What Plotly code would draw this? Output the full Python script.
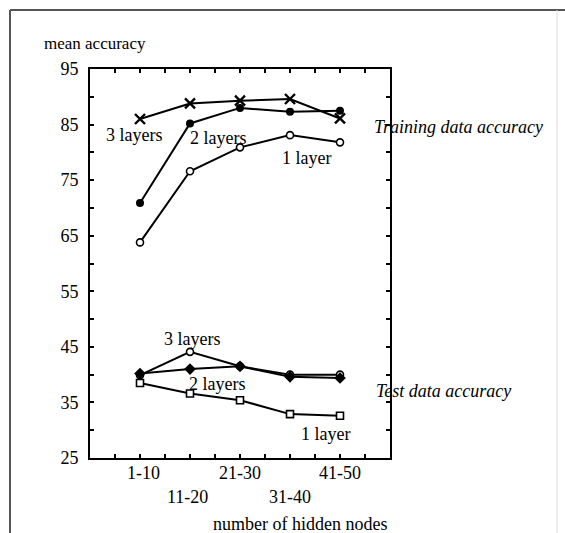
import plotly.graph_objects as go

# Hidden-node groups (plotted at positions 1..5 on the x axis)
groups = ["1-10", "11-20", "21-30", "31-40", "41-50"]
group_pos = [1, 2, 3, 4, 5]

# Mean accuracy on training data
train_3_layers = [86.0, 88.8, 89.3, 89.6, 86.1]
train_2_layers = [70.9, 85.2, 88.0, 87.3, 87.5]
train_1_layer = [63.8, 76.6, 80.9, 83.1, 81.8]

# Mean accuracy on test data
test_3_layers = [39.9, 44.1, 41.5, 40.0, 40.0]
test_2_layers = [40.2, 41.0, 41.5, 39.6, 39.4]
test_1_layer = [38.5, 36.6, 35.4, 32.9, 32.6]

y_tick_values = [25, 35, 45, 55, 65, 75, 85, 95]

FONT = "Liberation Serif"
W, H = 565, 533
L, R, T, B = 90, 175, 69, 75
PW, PH = W - L - R, H - T - B


def px(x):
    return (x - L) / PW


def py(y):
    return (H - B - y) / PH


fig = go.Figure()

line = dict(color="black", width=2)
series = [
    (train_3_layers, dict(symbol="x-thin", size=10, line=dict(color="black", width=2.4))),
    (train_2_layers, dict(symbol="circle", size=8, color="black")),
    (train_1_layer, dict(symbol="circle", size=7, color="white", line=dict(color="black", width=1.6))),
    (test_3_layers, dict(symbol="circle", size=7, color="white", line=dict(color="black", width=1.6))),
    (test_2_layers, dict(symbol="diamond", size=9, color="black")),
    (test_1_layer, dict(symbol="square", size=7, color="white", line=dict(color="black", width=1.6))),
]
for vals, marker in series:
    fig.add_trace(go.Scatter(x=group_pos, y=vals, mode="lines+markers",
                             line=line, marker=marker, showlegend=False,
                             cliponaxis=False))

annotations = []
# staggered category labels under the x axis
for i, (g, p) in enumerate(zip(groups, group_pos)):
    annotations.append(dict(x=p, y=0, xref="x", yref="paper", text=g,
                            showarrow=False, yanchor="middle",
                            xshift=3 if i == 0 else (-3 if i == 1 else 0),
                            yshift=-15 if i % 2 == 0 else -39,
                            font=dict(family=FONT, size=18, color="black")))

# curve labels
labels = [
    ("3 layers", 0.87, 83.1), ("2 layers", 2.55, 82.55), ("1 layer", 4.32, 78.9),
    ("3 layers", 2.03, 46.5), ("2 layers", 2.53, 38.4), ("1 layer", 4.71, 29.3),
]
for text, x, y in labels:
    annotations.append(dict(x=x, y=y, xref="x", yref="y", text=text, showarrow=False,
                            xanchor="center", yanchor="middle",
                            font=dict(family=FONT, size=18, color="black")))

annotations += [
    dict(x=px(372), y=py(127), xref="paper", yref="paper", xanchor="left", yanchor="middle",
         text="<i>Training data accuracy</i>", showarrow=False,
         font=dict(family=FONT, size=18, color="black")),
    dict(x=px(374), y=py(391), xref="paper", yref="paper", xanchor="left", yanchor="middle",
         text="<i>Test data accuracy</i>", showarrow=False,
         font=dict(family=FONT, size=18, color="black")),
    dict(x=px(42), y=py(44), xref="paper", yref="paper", xanchor="left", yanchor="middle",
         text="mean accuracy", showarrow=False,
         font=dict(family=FONT, size=17, color="black")),
    dict(x=px(300), y=py(524), xref="paper", yref="paper", xanchor="center",
         yanchor="middle", text="number of hidden nodes", showarrow=False,
         font=dict(family=FONT, size=18, color="black")),
]

# page frame
shapes = [
    dict(type="line", xref="paper", yref="paper", x0=px(10), x1=px(565), y0=py(10), y1=py(10),
         line=dict(color="#555555", width=2)),
    dict(type="line", xref="paper", yref="paper", x0=px(10), x1=px(10), y0=py(10), y1=py(533),
         line=dict(color="#555555", width=2)),
    dict(type="line", xref="paper", yref="paper", x0=px(557), x1=px(557), y0=py(10), y1=py(533),
         line=dict(color="#dddddd", width=1)),
]

fig.update_layout(
    width=W, height=H,
    margin=dict(l=L, r=R, t=T, b=B),
    paper_bgcolor="white", plot_bgcolor="white",
    annotations=annotations, shapes=shapes,
    font=dict(family=FONT, size=18, color="black"),
    xaxis=dict(range=[0, 6], showgrid=False, zeroline=False, showline=True,
               linecolor="black", linewidth=1.8, mirror="ticks",
               tickmode="array", tickvals=[0.5, 1, 1.5, 2, 2.5, 3, 3.5, 4, 4.5, 5, 5.5],
               showticklabels=False, ticks="inside", ticklen=4, tickwidth=1.5,
               tickcolor="black"),
    yaxis=dict(range=[25, 95], showgrid=False, zeroline=False, showline=True,
               linecolor="black", linewidth=1.8, mirror="ticks",
               tickmode="array", tickvals=y_tick_values,
               ticktext=[str(v) for v in y_tick_values],
               ticks="inside", ticklen=4, tickwidth=1.5, tickcolor="black",
               ticklabelstandoff=6,
               minor=dict(dtick=5, tick0=25, ticks="inside", ticklen=4, tickwidth=1.5,
                          tickcolor="black", showgrid=False),
               tickfont=dict(family=FONT, size=18, color="black")),
)

fig.write_html("out.html")
